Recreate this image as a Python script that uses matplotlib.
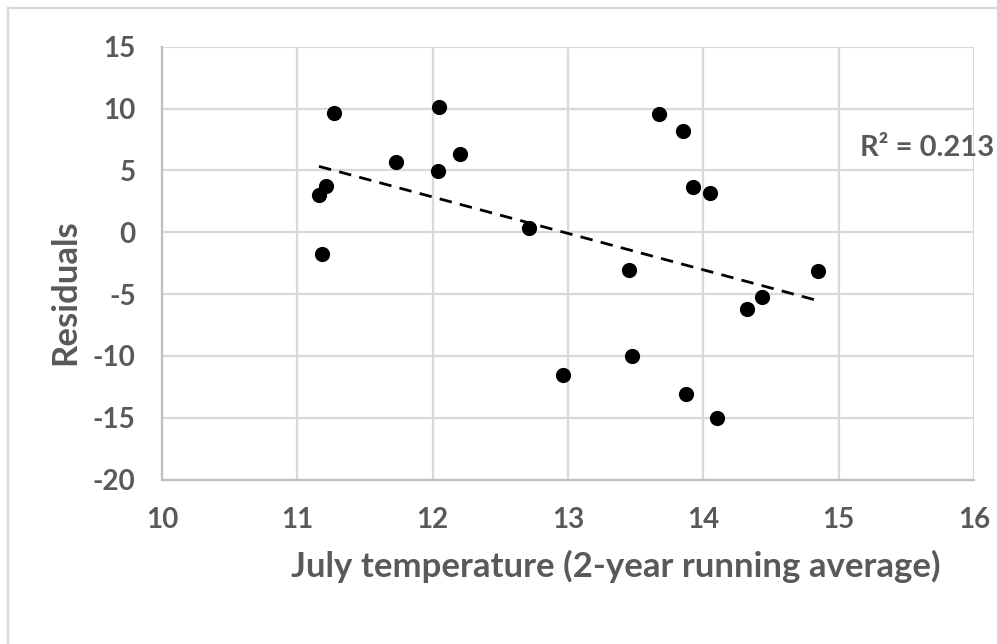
import numpy as np
import matplotlib
matplotlib.use("Agg")
import matplotlib.pyplot as plt
from matplotlib.lines import Line2D

# July temperature (2-year running average) vs. model residuals
temperature = [11.27, 12.05, 11.73, 12.04, 12.20, 11.21, 11.16, 11.18,
               13.67, 13.85, 13.92, 14.05, 12.71, 13.45, 14.85, 14.43,
               14.32, 12.96, 13.47, 13.87, 14.10]
residuals = [9.65, 10.16, 5.72, 4.99, 6.36, 3.78, 3.02, -1.75,
             9.57, 8.22, 3.69, 3.15, 0.32, -3.04, -3.15, -5.25,
             -6.19, -11.56, -9.99, -13.10, -15.00]

x_ticks = [10, 11, 12, 13, 14, 15, 16]
y_ticks = [15, 10, 5, 0, -5, -10, -15, -20]
r2_label = "R² = 0.213"

grey_text = "#595959"
grid_col = "#d9d9d9"
font = ["Lato", "DejaVu Sans"]
plt.rcParams["axes.unicode_minus"] = False

fig = plt.figure(figsize=(9.97, 6.44), dpi=100)
ax = fig.add_axes([162 / 997, 1 - 479.7 / 644, (974 - 162) / 997, (479.7 - 46.7) / 644])

ax.set_xlim(10, 16)
ax.set_ylim(-20, 15)
ax.set_xticks(x_ticks)
ax.set_yticks(y_ticks)
ax.grid(True, color=grid_col, linewidth=1.6)
ax.set_axisbelow(True)
for side in ["top", "right"]:
    ax.spines[side].set_visible(False)
for side in ["left", "bottom"]:
    ax.spines[side].set_color("#bfbfbf")
    ax.spines[side].set_linewidth(1.6)
ax.tick_params(length=0, labelsize=20, labelcolor=grey_text)
for lab in ax.get_xticklabels() + ax.get_yticklabels():
    lab.set_fontfamily(font)
    lab.set_fontweight("bold")
ax.tick_params(axis="x", pad=20)
ax.tick_params(axis="y", pad=19)

# scatter points
ax.scatter(temperature, residuals, s=120, color="black", zorder=3, linewidths=0)

# linear trendline across the data range
t = np.array(temperature)
slope, intercept = np.polyfit(t, np.array(residuals), 1)
xs = np.array([t.min(), t.max()])
ax.plot(xs, slope * xs + intercept, color="black", linewidth=2.0,
        linestyle=(0, (4.5, 3)), zorder=2)

fig.text(860 / 997, 1 - 148 / 644, r2_label, ha="left", va="center",
         fontsize=21, fontweight="bold", color=grey_text, family=font)

fig.text(65 / 997, 1 - 292 / 644, "Residuals", rotation=90, ha="center",
         va="center", fontsize=25, fontweight="bold", color=grey_text, family=font)
fig.text(616 / 997, 1 - 566 / 644, "July temperature (2-year running average)",
         ha="center", va="center", fontsize=25, fontweight="bold",
         color=grey_text, family=font)

# chart area frame (top and left edges)
fig.add_artist(Line2D([8 / 997, 1.0], [1 - 8 / 644, 1 - 8 / 644],
                      transform=fig.transFigure, color=grid_col, linewidth=1.6))
fig.add_artist(Line2D([8 / 997, 8 / 997], [0.0, 1 - 8 / 644],
                      transform=fig.transFigure, color=grid_col, linewidth=1.6))

fig.savefig("out.png", dpi=100, facecolor="white")
